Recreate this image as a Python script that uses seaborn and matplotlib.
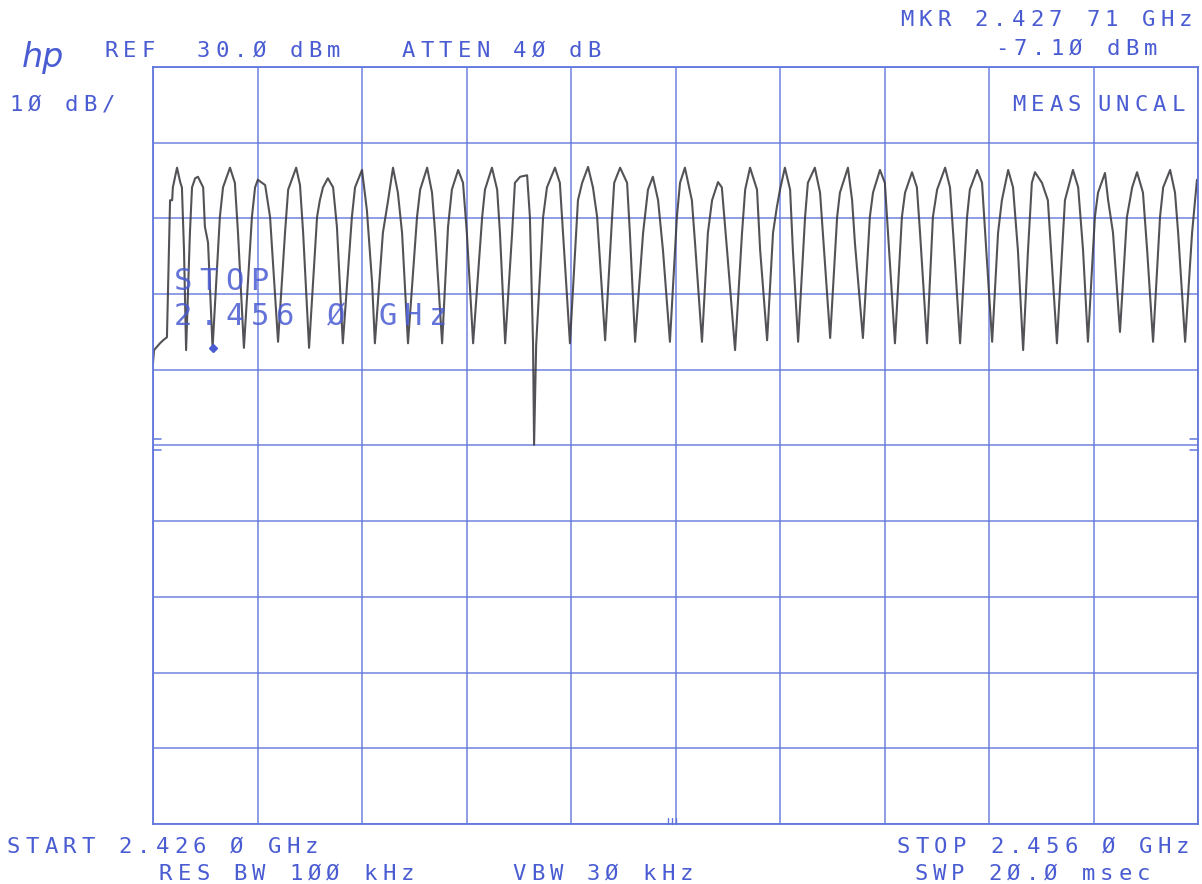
import numpy as np
import pandas as pd
import matplotlib
matplotlib.use("Agg")
import matplotlib.pyplot as plt
import matplotlib.transforms as mtransforms
import seaborn as sns

# ---- sweep settings -------------------------------------------------------
start_mhz = 2426.0
stop_mhz = 2456.0
ref_dbm = 30.0
db_per_div = 10.0
marker_mhz = 2427.71
marker_dbm = -7.10
display_line_dbm = -19.9

# ---- trace vertices (frequency in MHz, level in dBm) ----------------------
freq_mhz = [
    2426.00, 2426.03, 2426.20, 2426.29, 2426.40, 2426.49, 2426.55, 2426.57, 2426.69, 2426.78, 2426.83, 2426.89, 2426.95,
    2427.06, 2427.12, 2427.21, 2427.29, 2427.44, 2427.49, 2427.58, 2427.71,
    2427.92, 2428.01, 2428.21, 2428.35, 2428.44, 2428.61,
    2428.84, 2428.93, 2429.01, 2429.22, 2429.36, 2429.59,
    2429.79, 2429.88, 2430.11, 2430.22, 2430.31, 2430.48,
    2430.71, 2430.79, 2430.88, 2431.02, 2431.17, 2431.28, 2431.45,
    2431.71, 2431.80, 2432.00, 2432.14, 2432.29, 2432.37,
    2432.60, 2432.75, 2432.89, 2433.03, 2433.15, 2433.32,
    2433.58, 2433.67, 2433.87, 2434.01, 2434.10, 2434.30,
    2434.47, 2434.58, 2434.76, 2434.90, 2435.01, 2435.19,
    2435.45, 2435.53, 2435.73, 2435.88, 2435.96, 2436.11,
    2436.31, 2436.39, 2436.54, 2436.74, 2436.82, 2436.91, 2436.94, 2437.00,
    2437.20, 2437.31, 2437.54, 2437.68, 2437.77, 2437.97,
    2438.20, 2438.32, 2438.49, 2438.63, 2438.75, 2438.98,
    2439.18, 2439.24, 2439.41, 2439.61, 2439.69, 2439.84,
    2440.07, 2440.21, 2440.35, 2440.50, 2440.64, 2440.84,
    2441.04, 2441.13, 2441.27, 2441.47, 2441.56, 2441.76,
    2441.93, 2442.05, 2442.22, 2442.33, 2442.48, 2442.71,
    2442.91, 2443.00, 2443.14, 2443.34, 2443.43, 2443.63,
    2443.80, 2443.91, 2444.00, 2444.14, 2444.29, 2444.37, 2444.52,
    2444.72, 2444.80, 2445.00, 2445.15, 2445.23, 2445.44,
    2445.64, 2445.72, 2445.95, 2446.07, 2446.15, 2446.38,
    2446.58, 2446.67, 2446.87, 2447.01, 2447.10, 2447.30,
    2447.50, 2447.59, 2447.79, 2447.93, 2448.02, 2448.22,
    2448.39, 2448.51, 2448.74, 2448.88, 2448.97, 2449.17,
    2449.37, 2449.45, 2449.66, 2449.80, 2449.89, 2450.09,
    2450.26, 2450.37, 2450.55, 2450.69, 2450.83, 2450.98,
    2451.12, 2451.23, 2451.32, 2451.52, 2451.69, 2451.81, 2451.95,
    2452.10, 2452.18, 2452.41, 2452.56, 2452.70, 2452.84,
    2453.04, 2453.13, 2453.33, 2453.42, 2453.56, 2453.76,
    2453.96, 2454.11, 2454.25, 2454.42, 2454.54, 2454.71,
    2454.91, 2455.00, 2455.20, 2455.34, 2455.43, 2455.63,
    2455.83, 2455.97,
]
level_dbm = [
    -9.1, -7.4, -6.5, -6.1, -5.7, 12.4, 12.4, 14.1, 16.7, 14.8, 14.1, 5.8, -7.4,
    8.1, 14.1, 15.3, 15.5, 14.1, 8.9, 6.8, -7.1,
    10.2, 14.1, 16.7, 14.7, 8.1, -7.1,
    10.2, 14.1, 15.1, 14.4, 10.2, -6.3,
    8.1, 13.8, 16.7, 14.4, 8.1, -7.1,
    10.2, 12.4, 14.1, 15.3, 14.1, 8.9, -6.5,
    10.2, 14.1, 16.4, 11.1, 1.5, -6.5,
    8.1, 12.4, 16.7, 13.4, 8.1, -6.5,
    10.2, 13.8, 16.7, 13.4, 8.1, -6.5,
    8.9, 13.8, 16.4, 14.7, 8.1, -6.5,
    10.2, 13.8, 16.7, 13.8, 8.1, -6.5,
    8.1, 14.7, 15.5, 15.7, 10.2, -6.5, -19.9, -6.7,
    10.2, 14.1, 16.7, 14.7, 8.1, -6.5,
    12.4, 14.7, 16.8, 14.1, 10.2, -6.1,
    10.2, 14.7, 16.7, 14.7, 8.1, -6.3,
    8.1, 13.8, 15.5, 12.4, 5.8, -6.3,
    10.2, 14.7, 16.7, 12.4, 6.8, -6.3,
    8.1, 12.4, 14.8, 14.1, 5.8, -7.4,
    8.1, 13.8, 16.7, 13.8, 5.8, -6.1,
    8.1, 11.5, 13.8, 16.7, 13.8, 5.8, -6.3,
    10.2, 14.7, 16.7, 13.4, 8.1, -5.8,
    10.2, 13.4, 16.7, 12.4, 6.8, -5.8,
    10.2, 13.4, 16.4, 14.7, 8.1, -6.5,
    10.2, 13.4, 16.1, 14.1, 8.1, -6.5,
    10.2, 13.8, 16.7, 14.1, 8.1, -6.5,
    10.2, 13.8, 16.4, 14.7, 8.1, -6.3,
    8.1, 12.4, 16.4, 14.1, 5.8, -7.4,
    5.8, 14.7, 16.1, 14.7, 12.4, 3.6, -6.5,
    5.8, 12.4, 16.4, 14.1, 5.8, -6.3,
    10.2, 13.4, 16.0, 12.4, 8.1, -5.0,
    10.2, 14.1, 16.1, 13.4, 5.8, -6.3,
    10.2, 14.1, 16.4, 13.4, 8.1, -6.3,
    8.1, 15.1,
]

# ---- annotation text -------------------------------------------------------
header_left = "REF  30.Ø dBm   ATTEN 4Ø dB"
scale_text = "1Ø dB/"
marker_freq_text = "MKR 2.427 71 GHz"
marker_level_text = "-7.1Ø dBm"
meas_text = "MEAS"
uncal_text = "UNCAL"
start_text = "START 2.426 Ø GHz"
stop_text = "STOP 2.456 Ø GHz"
rbw_text = "RES BW 1ØØ kHz     VBW 3Ø kHz"
sweep_text = "SWP 2Ø.Ø msec"
overlay_lines = ["STOP", "2.456 Ø GHz"]

# ---- styling ---------------------------------------------------------------
W, H = 1202, 884
GRID = "#6176dc"
INK = "#4a5cd2"
TRACE = "#3c3a3e"
MONO = "DejaVu Sans Mono"

sns.set_theme(style="white")
plt.rcParams["font.family"] = ["DejaVu Sans Mono", "DejaVu Sans"]

fig = plt.figure(figsize=(W / 100, H / 100), dpi=100)
fig.patch.set_facecolor("white")
ax = fig.add_axes([153 / W, 1 - 824 / H, (1198 - 153) / W, (824 - 67) / H])

trace = pd.DataFrame({"freq": freq_mhz, "level": level_dbm})
sns.lineplot(data=trace, x="freq", y="level", sort=False, estimator=None,
             color=TRACE, linewidth=1.5, alpha=0.88, ax=ax)

# marker dot on the trace
ax.plot([marker_mhz], [marker_dbm], marker="D", markersize=4.5,
        color=INK, linestyle="none", zorder=5)

ax.set_xlim(start_mhz, stop_mhz)
ax.set_ylim(ref_dbm - 10 * db_per_div, ref_dbm)
ax.set_xticks(np.linspace(start_mhz, stop_mhz, 11))
ax.set_yticks(np.linspace(ref_dbm - 10 * db_per_div, ref_dbm, 11))
ax.tick_params(length=0, labelbottom=False, labelleft=False)
ax.set_xlabel("")
ax.set_ylabel("")
ax.grid(True, color=GRID, linewidth=1.1, alpha=0.9)
ax.set_axisbelow(True)
for sp in ax.spines.values():
    sp.set_color(GRID)
    sp.set_linewidth(1.3)
ax.set_facecolor("white")

# display-line ticks on both edges
edge = mtransforms.blended_transform_factory(ax.transAxes, ax.transData)
for x0, x1 in [(0.0, 0.008), (0.992, 1.0)]:
    for dy in (-0.7, 0.7):
        ax.plot([x0, x1], [display_line_dbm + dy, display_line_dbm + dy],
                transform=edge, color=GRID, linewidth=1.1, clip_on=False)

# centre-frequency tick at the bottom edge
bottom = mtransforms.blended_transform_factory(ax.transData, ax.transAxes)
centre = (start_mhz + stop_mhz) / 2
for dx in (-0.12, 0.0, 0.12):
    ax.plot([centre - 0.1 + dx, centre - 0.1 + dx], [0.0, 0.008],
            transform=bottom, color=GRID, linewidth=1.0, clip_on=False)


def plotter_text(x, y, s, size=16, pitch=18.6, color=INK, alpha=1.0):
    """Write text one character per fixed-pitch cell, like a pen plotter."""
    for i, ch in enumerate(s):
        if ch == " ":
            continue
        fig.text((x + i * pitch) / W, 1 - y / H, ch, fontsize=size,
                 family=MONO, color=color, alpha=alpha,
                 ha="left", va="baseline")


plotter_text(104, 57, header_left)
plotter_text(9, 111, scale_text)
plotter_text(900, 26, marker_freq_text)
plotter_text(995, 55, marker_level_text)
plotter_text(1012, 111, meas_text)
plotter_text(1097, 111, uncal_text)
plotter_text(7, 853, start_text)
plotter_text(897, 853, stop_text)
plotter_text(159, 880, rbw_text)
plotter_text(914, 880, sweep_text)

# logo
fig.text(22 / W, 1 - 67 / H, "hp", fontsize=24, family="DejaVu Sans",
         style="italic", color=INK, ha="left", va="baseline")

# large overlay label inside the graticule
plotter_text(174, 290, overlay_lines[0], size=22, pitch=25.5, alpha=0.85)
plotter_text(174, 325, overlay_lines[1], size=22, pitch=25.5, alpha=0.85)

fig.savefig("out.png", dpi=100)
